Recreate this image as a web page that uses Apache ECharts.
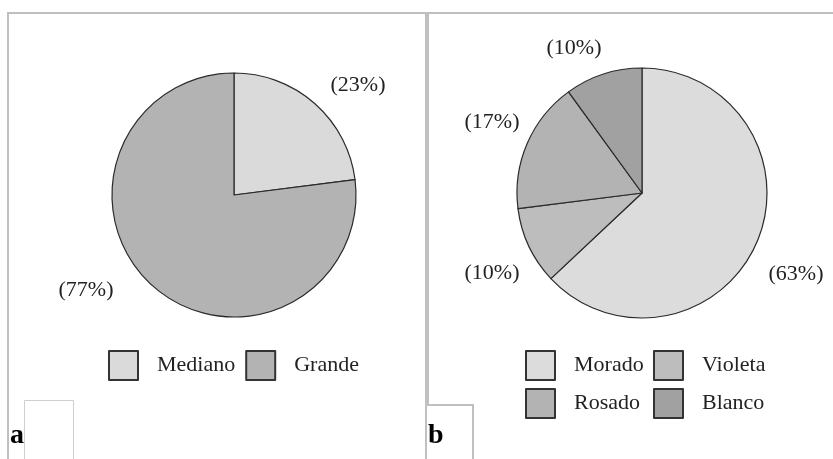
<!DOCTYPE html>
<html>
<head>
<meta charset="utf-8">
<script src="https://cdn.jsdelivr.net/npm/echarts@6/dist/echarts.min.js"></script>
<style>
  html, body { margin: 0; padding: 0; background: #fff; }
  #chart { width: 833px; height: 459px; }
</style>
</head>
<body>
<div id="chart"></div>
<script>
// Panel a: fruit size
const sizeCategories = ['Mediano', 'Grande'];
const sizeValues = [23, 77];
const sizeColors = ['#dadada', '#b3b3b3'];

// Panel b: flower colour
const colourCategories = ['Morado', 'Violeta', 'Rosado', 'Blanco'];
const colourValues = [63, 10, 17, 10];
const colourColors = ['#dcdcdc', '#bdbdbd', '#b3b3b3', '#a1a1a1'];

const serif = 'Liberation Serif, Times New Roman, serif';

// Where each percentage label sits, per series / slice
const labelSpots = [
  [[358, 85], [86, 290]],
  [[796, 274], [492, 273], [492, 122], [574, 48]]
];

function pieData(names, values, colors) {
  return names.map((n, i) => ({ name: n, value: values[i], itemStyle: { color: colors[i] } }));
}

const pieCommon = {
  type: 'pie',
  startAngle: 90,
  clockwise: true,
  silent: true,
  itemStyle: { borderColor: '#2a2a2a', borderWidth: 1.2 },
  label: {
    show: true,
    formatter: '({c}%)',
    fontFamily: serif,
    fontSize: 22,
    color: '#222',
    overflow: 'none'
  },
  labelLine: { show: false },
  emphasis: { disabled: true },
  labelLayout: function (p) {
    const s = labelSpots[p.seriesIndex][p.dataIndex];
    return { x: s[0], y: s[1], align: 'center', verticalAlign: 'middle' };
  }
};

const legendCommon = {
  icon: 'rect',
  itemWidth: 29,
  itemHeight: 29,
  padding: 0,
  selectedMode: false,
  itemStyle: { borderColor: '#333', borderWidth: 2 },
  textStyle: { fontFamily: serif, fontSize: 22, color: '#222', padding: [0, 0, 0, 14] }
};

const grey = '#c0c0c0';

const option = {
  animation: false,
  backgroundColor: '#fff',
  legend: [
    Object.assign({}, legendCommon, { data: sizeCategories, orient: 'horizontal', left: 108, top: 350, itemGap: 10 }),
    Object.assign({}, legendCommon, { data: [colourCategories[0], colourCategories[2]], orient: 'vertical', left: 525, top: 350, itemGap: 7 }),
    Object.assign({}, legendCommon, { data: [colourCategories[1], colourCategories[3]], orient: 'vertical', left: 653, top: 350, itemGap: 7 })
  ],
  series: [
    Object.assign({}, pieCommon, {
      name: 'Tamaño',
      center: [234, 195],
      radius: 122,
      data: pieData(sizeCategories, sizeValues, sizeColors)
    }),
    Object.assign({}, pieCommon, {
      name: 'Color',
      center: [642, 193],
      radius: 125,
      data: pieData(colourCategories, colourValues, colourColors)
    })
  ],
  graphic: [
    // panel frame lines
    { type: 'rect', shape: { x: 7, y: 12, width: 826, height: 2 }, style: { fill: grey }, silent: true },
    { type: 'rect', shape: { x: 7, y: 12, width: 2, height: 447 }, style: { fill: grey }, silent: true },
    { type: 'rect', shape: { x: 425, y: 12, width: 4, height: 392 }, style: { fill: grey }, silent: true },
    { type: 'rect', shape: { x: 425, y: 404, width: 2, height: 55 }, style: { fill: grey }, silent: true },
    // small caption boxes
    { type: 'rect', shape: { x: 24.5, y: 400.5, width: 49, height: 70 }, style: { fill: 'none', stroke: '#cfcfcf', lineWidth: 1 }, silent: true },
    { type: 'rect', shape: { x: 427, y: 404, width: 47, height: 2 }, style: { fill: grey }, silent: true },
    { type: 'rect', shape: { x: 472, y: 404, width: 2, height: 55 }, style: { fill: grey }, silent: true },
    // panel letters
    { type: 'text', x: 10, y: 450, style: { text: 'a', font: 'bold 28px ' + serif, fill: '#000', textVerticalAlign: 'bottom' }, silent: true },
    { type: 'text', x: 428, y: 450, style: { text: 'b', font: 'bold 28px ' + serif, fill: '#000', textVerticalAlign: 'bottom' }, silent: true }
  ]
};

const chart = echarts.init(document.getElementById('chart'), null, { renderer: 'canvas' });
chart.setOption(option);
</script>
</body>
</html>
